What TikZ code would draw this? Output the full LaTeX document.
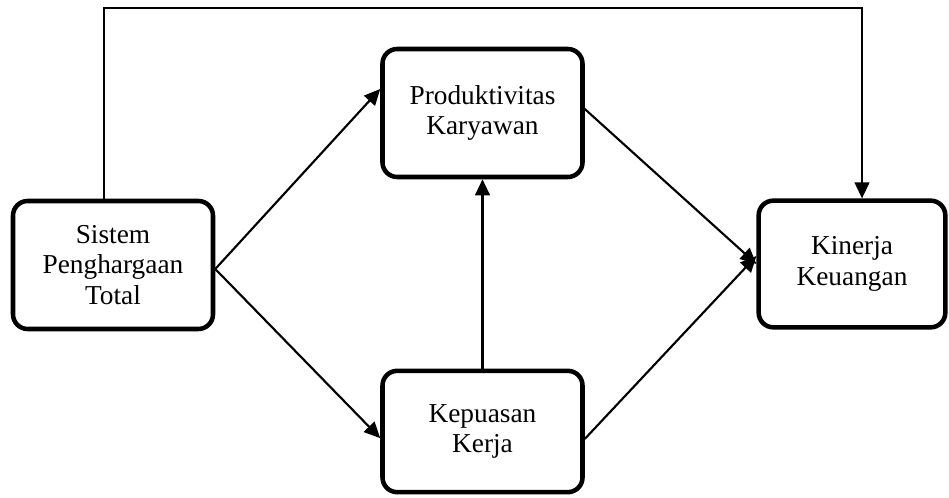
\documentclass[tikz,border=0pt]{standalone}
\usepackage{fontspec}
\setmainfont{Liberation Serif}
\usetikzlibrary{arrows.meta}

\tikzset{every picture/.style={line width=0.75pt}}
\tikzset{
  varbox/.style={draw, line width=3.4pt, rounded corners=11pt, align=center, inner sep=0pt,
    font=\fontsize{20.5}{23}\selectfont},
  conn/.style={line width=1.6pt, -{Triangle[length=12pt,width=11pt]}}
}

\begin{document}
\begin{tikzpicture}[x=0.75pt,y=0.75pt,yscale=-1,xscale=1]
	\path (0,0) rectangle (949,498); %set diagram size

	% Text Node
	\node [varbox, minimum width=150pt, minimum height=96pt] (sistem) at (113,265) {Sistem\\Penghargaan\\Total};
	% Text Node
	\node [varbox, minimum width=150pt, minimum height=96pt] (produk) at (482.5,113) {Produktivitas\\Karyawan};
	% Text Node
	\node [varbox, minimum width=150pt, minimum height=91pt] (kepuasan) at (482.5,431.5) {Kepuasan\\Kerja};
	% Text Node
	\node [varbox, minimum width=140pt, minimum height=95pt] (kinerja) at (852,264) {Kinerja\\Keuangan};

	%Straight Lines [id:top]
	\coordinate (topL) at (104,8);
	\coordinate (topR) at (862,8);
	\draw [conn] (sistem.north -| topL) -- (topL) -- (topR) -- (kinerja.north -| topR);
	%Straight Lines [id:left]
	\draw [conn] ([yshift=3pt]sistem.east) -- ([yshift=-18pt]produk.west);
	\draw [conn] ([yshift=3pt]sistem.east) -- ([yshift=5pt]kepuasan.west);
	%Straight Lines [id:middle]
	\draw [conn] (kepuasan) -- (produk);
	%Straight Lines [id:right]
	\draw [conn] ([yshift=-3pt]produk.east) -- (kinerja.west);
	\draw [conn] ([yshift=5.6pt]kepuasan.east) -- ([yshift=-6pt]kinerja.west);

\end{tikzpicture}
\end{document}
